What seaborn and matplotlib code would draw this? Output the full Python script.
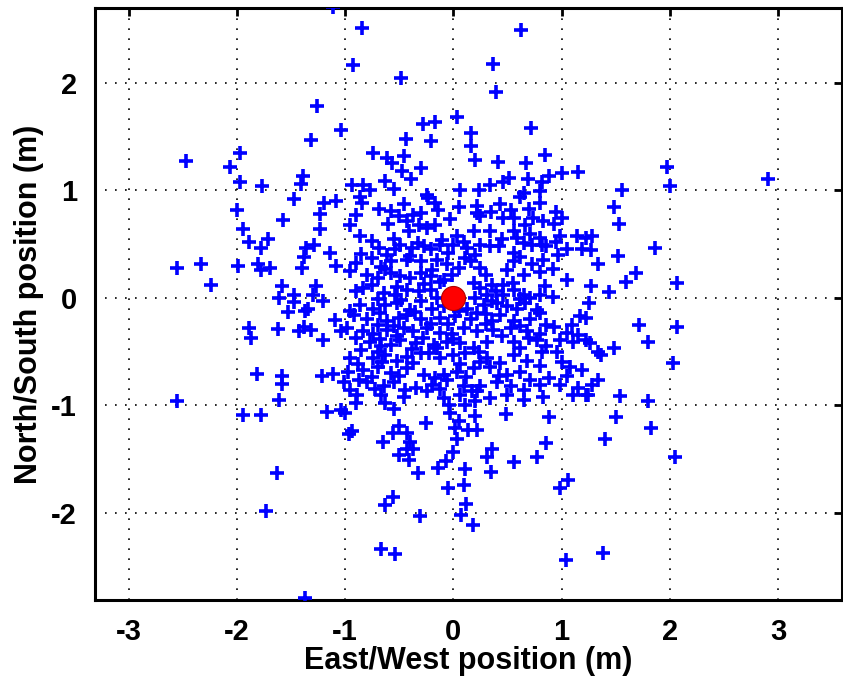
"""Scatter of position fixes around the true location (MATLAB-style figure)."""

import matplotlib

matplotlib.use("Agg")
import matplotlib.pyplot as plt
import pandas as pd
import seaborn as sns

# fixes above y ~ 0.95 (north of the core)
top_east = [-1.11, -1.26, -1.31, -2.47, -1.97, -2.06, -1.97, -1.77, -1.39, -1.41,
            -0.84, 0.63, -0.93, 0.37, -0.48, 0.39, 0.03, -0.28, -0.17, 0.72,
            -0.44, -0.21, 0.16, 0.16, 0.20, -0.74, -0.61, -0.57, -0.46, -0.47,
            -0.39, -0.30, -0.63, -0.55, -0.94, -0.83, -0.77, -0.24, 0.06, 0.24,
            0.41, 0.34, 0.46, 0.51, 0.67, 0.69, 0.85, 0.82, 0.88, 1.00,
            1.15, 0.65, 0.80, -0.86, -1.04, 1.56, 1.97, 2.00, 2.91]
top_north = [2.70, 1.78, 1.47, 1.27, 1.35, 1.22, 1.08, 1.04, 1.13, 1.06,
             2.51, 2.49, 2.16, 2.17, 2.04, 1.91, 1.68, 1.62, 1.63, 1.58,
             1.48, 1.46, 1.53, 1.41, 1.28, 1.35, 1.30, 1.25, 1.32, 1.18,
             1.10, 1.21, 1.09, 1.01, 1.05, 1.05, 1.00, 0.96, 1.00, 1.00,
             1.26, 1.05, 1.08, 1.11, 1.25, 1.10, 1.33, 1.08, 1.13, 1.16,
             1.17, 0.97, 0.99, 0.94, 1.56, 1.00, 1.22, 1.04, 1.10]

# fixes west of x ~ -1
west_east = [-1.47, -1.19, -1.08, -2.00, -1.23, -1.57, -1.94, -1.23, -1.89, -1.71,
             -1.78, -1.36, -1.29, -1.38, -1.14, -2.55, -2.33, -1.99, -1.80, -1.78,
             -1.69, -1.40, -1.08, -2.24, -1.58, -1.61, -1.47, -1.47, -1.27, -1.30,
             -1.20, -1.34, -1.37, -1.53, -1.09, -1.89, -1.87, -1.62, -1.43, -1.38,
             -1.31, -1.04, -1.20, -1.81, -1.58, -1.58, -1.21, -1.11, -2.55, -1.61,
             -1.94, -1.78, -1.17, -1.04, -1.63, -1.73, -1.37]
west_north = [0.92, 0.88, 0.90, 0.82, 0.78, 0.72, 0.64, 0.64, 0.52, 0.55,
              0.46, 0.46, 0.49, 0.38, 0.42, 0.28, 0.31, 0.30, 0.31, 0.26,
              0.28, 0.28, 0.30, 0.12, 0.11, 0.00, 0.03, -0.04, 0.11, 0.03,
              -0.03, -0.10, -0.12, -0.13, -0.21, -0.28, -0.37, -0.29, -0.31, -0.27,
              -0.30, -0.31, -0.39, -0.71, -0.73, -0.80, -0.73, -0.71, -0.96, -0.95,
              -1.09, -1.09, -1.06, -1.04, -1.63, -1.98, -2.79]

# fixes east of x ~ 1.25
east_east = [1.48, 1.53, 1.28, 1.27, 1.52, 1.34, 1.86, 1.69, 1.60, 2.07,
             1.27, 1.44, 1.25, 1.72, 2.07, 1.80, 1.26, 1.34, 1.36, 1.48,
             2.03, 1.34, 1.28, 1.54, 1.80, 1.24, 1.50, 1.83, 1.40, 2.05, 1.38]
east_north = [0.84, 0.69, 0.57, 0.44, 0.39, 0.31, 0.46, 0.23, 0.15, 0.14,
              0.11, 0.05, -0.05, -0.25, -0.27, -0.41, -0.42, -0.50, -0.53, -0.47,
              -0.61, -0.76, -0.81, -0.91, -0.96, -0.90, -1.11, -1.21, -1.31, -1.48, -2.37]

# fixes below y ~ -0.95
south_east = [0.49, 0.88, 0.86, 0.77, 0.56, 0.36, 0.31, 0.35, 0.11, 0.10,
              -0.05, 0.12, 0.07, 0.18, -0.31, -0.63, -0.56, -0.67, -0.54, 1.06,
              0.99, 1.04, -0.33, -0.14, -0.07, 0.00, -0.50, -0.41, -0.65, -0.56,
              -0.50, -0.43, -0.40, -0.37, -0.43, -0.25, -0.94, -0.96, -1.00, -0.90,
              -0.63, -0.55, -0.03, -0.04, 0.11, 0.20, 0.05, 0.02, 0.14, 0.22,
              0.03, 0.20]
south_north = [-1.08, -1.11, -1.35, -1.48, -1.53, -1.41, -1.48, -1.62, -1.59, -1.74,
               -1.77, -1.92, -2.02, -2.11, -2.03, -1.93, -1.85, -2.34, -2.38, -1.69,
               -1.77, -2.44, -1.63, -1.58, -1.52, -1.43, -1.46, -1.51, -1.34, -1.26,
               -1.19, -1.26, -1.34, -1.41, -1.41, -1.16, -1.24, -1.27, -1.07, -0.98,
               -0.98, -1.03, -1.07, -1.00, -1.00, -1.10, -1.15, -1.21, -1.23, -1.23,
               -1.31, -0.96]

# dense core, read row by row from north to south
core_east = [
    -0.84, -0.69, -0.46, -0.23, -0.17, -0.14, 0.22, 0.43, 0.53, 0.62, 0.80,
    -0.95, -0.90, -0.60, -0.50, -0.43, -0.37, -0.32, -0.17, -0.03, 0.22, 0.25, 0.46, 0.56, 0.66, 0.74, 0.83, 0.93, 1.00,
    -0.86, -0.41, -0.24, 0.03, 0.19, 0.34, 0.56, 0.59, 0.71, 0.80, 0.99, 1.14, 1.23,
    -0.69, -0.61, -0.54, -0.49, -0.38, -0.27, -0.21, -0.12, 0.00, 0.13, 0.25, 0.34, 0.42, 0.56, 0.73, 0.82, 0.86, 1.05, 1.19,
    -0.90, -0.75, -0.67, -0.58, -0.43, -0.30, -0.15, -0.06, 0.11, 0.16, 0.25, 0.50, 0.56, 0.73, 0.83,
    -0.80, -0.70, -0.58, -0.49, -0.40, -0.30, -0.21, -0.12, -0.01, 0.19, 0.36, 0.46, 0.65, 1.05,
    -0.90, -0.83, -0.64, -0.54, -0.43, -0.32, -0.21, -0.09, 0.20, 0.31, 0.39, 0.46, 0.56, 0.65, 0.71, 0.80,
    -0.86, -0.74, -0.63, -0.52, -0.40, -0.30, -0.20, -0.09, 0.13, 0.28, 0.40, 0.50, 0.59, 0.66, 0.77, 1.17,
    -0.92, -0.80, -0.61, -0.50, -0.43, -0.30, -0.21, -0.12, 0.02, 0.16, 0.22, 0.36, 0.43, 0.56, 0.71, 0.86, 1.23,
    -0.98, -0.83, -0.74, -0.61, -0.46, -0.37, -0.24, -0.12, -0.01, 0.10, 0.22, 0.37, 0.53, 0.68, 0.80, 0.93, 1.05, 1.23,
    -0.77, -0.67, -0.58, -0.49, -0.34, -0.18, -0.06, 0.06, 0.19, 0.31, 0.56, 0.77, 0.86, 0.99, 1.11,
    -0.95, -0.74, -0.63, -0.52, -0.43, -0.30, -0.15, -0.12, 0.00, 0.11, 0.31, 0.43, 0.56, 0.68, 0.96, 1.08,
    -0.97, -0.83, -0.70, -0.58, -0.43, -0.27, -0.09, 0.03, 0.19, 0.34, 0.50, 0.62, 0.71, 1.05, 1.19,
    -1.01, -0.87, -0.80, -0.64, -0.55, -0.34, -0.20, -0.06, 0.10, 0.25, 0.40, 0.53, 0.80, 0.99,
    -0.89, -0.67, -0.46, -0.24, -0.09, 0.06, 0.22, 0.34, 0.50, 0.65, 0.83, 1.11, 1.23,
]
core_north = [
    0.88, 0.83, 0.87, 0.93, 0.88, 0.82, 0.85, 0.87, 0.82, 0.94, 0.88,
    0.68, 0.77, 0.69, 0.76, 0.71, 0.77, 0.68, 0.68, 0.73, 0.79, 0.76, 0.74, 0.74, 0.68, 0.74, 0.71, 0.69, 0.74,
    0.57, 0.62, 0.65, 0.57, 0.62, 0.62, 0.62, 0.56, 0.59, 0.56, 0.57, 0.57, 0.56,
    0.46, 0.40, 0.45, 0.49, 0.46, 0.48, 0.45, 0.49, 0.49, 0.46, 0.49, 0.48, 0.48, 0.42, 0.49, 0.49, 0.48, 0.45, 0.45,
    0.32, 0.37, 0.29, 0.34, 0.35, 0.34, 0.35, 0.31, 0.37, 0.34, 0.28, 0.26, 0.34, 0.31, 0.35,
    0.21, 0.18, 0.23, 0.20, 0.18, 0.23, 0.20, 0.15, 0.21, 0.14, 0.12, 0.12, 0.21, 0.17,
    0.06, 0.09, 0.04, 0.03, 0.07, 0.06, 0.07, 0.17, 0.00, 0.03, 0.06, 0.03, 0.07, 0.03, 0.00, 0.03,
    -0.07, -0.10, -0.07, -0.05, -0.11, -0.03, -0.10, -0.08, -0.10, -0.07, -0.05, -0.08, -0.10, -0.05, -0.11, -0.17,
    -0.16, -0.20, -0.22, -0.19, -0.16, -0.20, -0.24, -0.19, -0.17, -0.20, -0.14, -0.22, -0.16, -0.22, -0.20, -0.25, -0.19,
    -0.28, -0.31, -0.34, -0.30, -0.28, -0.31, -0.28, -0.33, -0.34, -0.28, -0.31, -0.30, -0.28, -0.31, -0.34, -0.27, -0.33, -0.39,
    -0.41, -0.45, -0.44, -0.39, -0.42, -0.44, -0.41, -0.42, -0.47, -0.41, -0.41, -0.39, -0.45, -0.39, -0.41,
    -0.56, -0.56, -0.53, -0.59, -0.55, -0.51, -0.47, -0.56, -0.53, -0.51, -0.56, -0.61, -0.53, -0.59, -0.50, -0.64,
    -0.69, -0.67, -0.64, -0.70, -0.65, -0.72, -0.72, -0.69, -0.65, -0.64, -0.72, -0.69, -0.76, -0.73, -0.67,
    -0.78, -0.76, -0.78, -0.82, -0.78, -0.84, -0.81, -0.76, -0.82, -0.82, -0.78, -0.82, -0.81, -0.81,
    -0.90, -0.90, -0.92, -0.87, -0.93, -0.90, -0.87, -0.93, -0.90, -0.95, -0.92, -0.90, -0.90,
]

# core fixes that sit between the rows above (overlapping crosses)
gap_east = [
    -0.58, -0.30, 0.05, 0.35, 0.70, 0.95,
    -0.75, -0.55, -0.33, -0.10, 0.10, 0.45, 0.65, 0.95,
    -0.85, -0.40, -0.05, 0.20, 0.62, 0.97,
    -0.95, -0.63, -0.20, 0.05, 0.30, 0.80, 0.92,
    -0.75, -0.52, -0.27, 0.25, 0.55, 0.85,
    -0.70, -0.48, -0.15, 0.36, 0.62, 0.92,
    -0.95, -0.68, -0.35, 0.05, 0.30, 0.80,
    -0.70, -0.55, -0.05, 0.30, 0.62, 1.10,
    -0.90, -0.68, -0.52, -0.28, 0.00, 0.45, 0.70, 1.15,
    -0.85, -0.70, -0.38, -0.22, 0.24, 0.62, 0.82,
    -0.88, -0.66, -0.37, 0.06, 0.25, 0.80, 1.00,
    -0.75, -0.50, -0.17, 0.12, 0.42, 0.88,
    -0.95, -0.72, -0.45, -0.12, 0.17, 0.65, 1.15,
]
gap_north = [
    0.81, 0.79, 0.84, 0.80, 0.83, 0.80,
    0.53, 0.55, 0.51, 0.54, 0.52, 0.55, 0.51, 0.52,
    0.41, 0.39, 0.42, 0.40, 0.38, 0.40,
    0.25, 0.27, 0.26, 0.28, 0.21, 0.24, 0.27,
    0.12, 0.10, 0.13, 0.09, 0.14, 0.11,
    -0.01, -0.02, 0.00, -0.03, -0.01, 0.01,
    -0.12, -0.14, -0.13, -0.12, -0.15, -0.14,
    -0.25, -0.26, -0.24, -0.24, -0.26, -0.25,
    -0.37, -0.38, -0.36, -0.37, -0.38, -0.36, -0.37, -0.35,
    -0.49, -0.50, -0.48, -0.51, -0.50, -0.47, -0.50,
    -0.62, -0.60, -0.61, -0.62, -0.60, -0.63, -0.60,
    -0.74, -0.73, -0.75, -0.74, -0.73, -0.75,
    -0.86, -0.85, -0.86, -0.85, -0.87, -0.86, -0.84,
]

# true position
truth_east = [0.0]
truth_north = [0.0]

x_ticks = [-3, -2, -1, 0, 1, 2, 3]
y_ticks = [-2, -1, 0, 1, 2]

fixes = pd.DataFrame({
    "east": top_east + west_east + east_east + south_east + core_east + gap_east,
    "north": top_north + west_north + east_north + south_north + core_north + gap_north,
})
truth = pd.DataFrame({"east": truth_east, "north": truth_north})

sns.set_style("white")
plt.rcParams["font.family"] = ["Liberation Sans Narrow", "Liberation Sans", "DejaVu Sans"]
plt.rcParams["font.weight"] = "bold"
for key in ("text.color", "axes.labelcolor", "xtick.color", "ytick.color"):
    plt.rcParams[key] = "black"

fig = plt.figure(figsize=(8.43, 6.86), dpi=100)
ax = fig.add_axes([0.1127, 0.1254, 0.886, 0.863])

sns.scatterplot(data=fixes, x="east", y="north", marker="+", s=95, color="#0000ff",
                linewidth=2.6, ax=ax, zorder=3)
sns.scatterplot(data=truth, x="east", y="north", s=300, color="#ff0000",
                edgecolor="#b00000", linewidth=0.8, ax=ax, zorder=4)

ax.set_xlim(-3.31, 3.59)
ax.set_ylim(-2.81, 2.695)
ax.set_xticks(x_ticks)
ax.set_yticks(y_ticks)
ax.set_xticklabels([str(t) for t in x_ticks])
ax.set_yticklabels([str(t) for t in y_ticks])
ax.grid(True, color="black", linestyle=(0, (1, 5)), linewidth=1.2)
ax.set_axisbelow(True)

ax.tick_params(direction="in", top=True, right=True, length=6, width=2, labelsize=21)
ax.tick_params(axis="x", pad=13)
ax.tick_params(axis="y", pad=13)
for spine in ax.spines.values():
    spine.set_visible(True)
    spine.set_color("black")
    spine.set_linewidth(2.2)

ax.set_xlabel("East/West position (m)", fontsize=22, fontweight="bold", labelpad=0)
ax.set_ylabel("North/South position (m)", fontsize=22, fontweight="bold", labelpad=5)

fig.savefig("out.png", dpi=100)
plt.close(fig)
